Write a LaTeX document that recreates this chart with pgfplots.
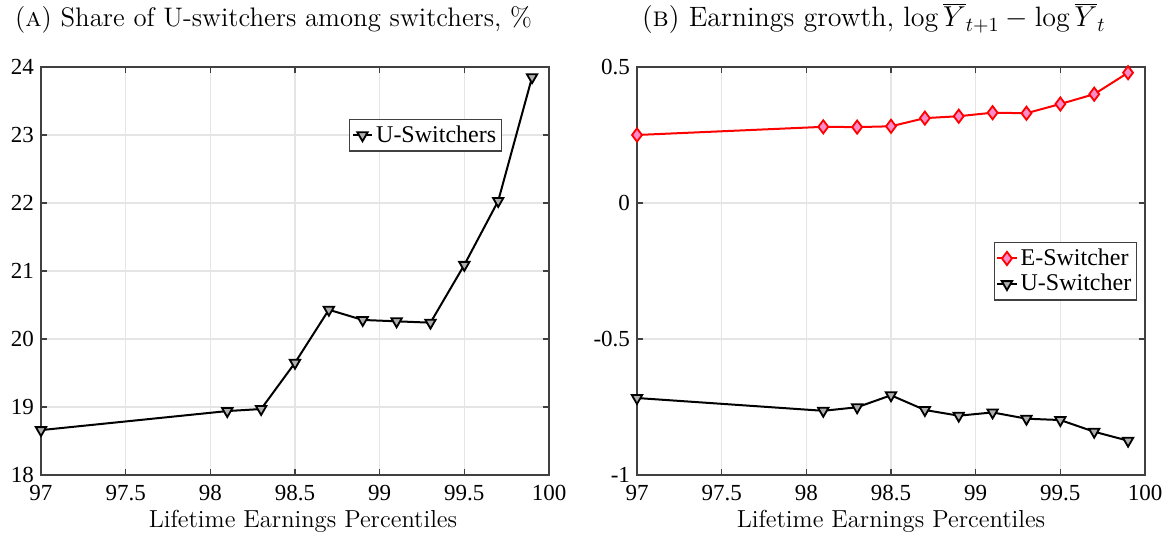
\documentclass[border=0pt]{standalone}
\usepackage{fontspec}
\usepackage{pgfplots}
\pgfplotsset{compat=1.18}
\newfontfamily\timesf{Liberation Serif}
\definecolor{pinkfill}{RGB}{255,140,200}
\definecolor{mgray}{RGB}{175,175,175}
\begin{document}
\begin{tikzpicture}[x=1pt,y=1pt]
\useasboundingbox (-20.5,-32) rectangle (566.5,237.5);
\pgfplotsset{
 mystyle/.style={
  scale only axis, width=254pt, height=204pt,
  xmin=97,xmax=100,
  xtick={97,97.5,98,98.5,99,99.5,100},
  xticklabels={97,97.5,98,98.5,99,99.5,100},
  tick align=inside, major tick length=3pt,
  grid=major, major grid style={black!10, line width=0.6pt},
  axis line style={black!75, line width=0.8pt},
  tick style={black!75, line width=0.8pt},
  tick label style={font=\timesf\fontsize{11.5}{12}\selectfont},
  xticklabel style={yshift=-1.7pt},
  xlabel={Lifetime Earnings Percentiles},
  xlabel style={font=\fontsize{12.3}{13}\selectfont, at={(axis description cs:0.5,0)}, anchor=base, yshift=-26.5pt},
  legend style={font=\timesf\fontsize{12}{13}\selectfont, draw=black!75, line width=0.6pt, inner sep=1pt, row sep=-1pt, nodes={inner xsep=1.5pt}},
  legend cell align=left,
  legend image code/.code={\draw[mark repeat=2,mark phase=2] plot coordinates {(0cm,0cm)(0.17cm,0cm)(0.34cm,0cm)};},
 },
 ustyle/.style={black, line width=1pt, mark=triangle*, mark size=3pt, mark options={rotate=180, fill=mgray, draw=black, line width=0.9pt}},
 estyle/.style={red, line width=1pt, mark=diamond*, mark size=3.3pt, mark options={fill=pinkfill, draw=red, line width=0.9pt}},
}
\begin{axis}[mystyle,
  ymin=18, ymax=24, ytick={18,19,20,21,22,23,24},
  yticklabels={18,19,20,21,22,23,24},
  legend style={at={(0.907,0.873)}, anchor=north east},
  xlabel style={xshift=4pt},
]
\addplot[ustyle] coordinates {
(97,18.66) (98.1,18.94) (98.3,18.97) (98.5,19.65) (98.7,20.43) (98.9,20.28)
(99.1,20.26) (99.3,20.24) (99.5,21.09) (99.7,22.03) (99.9,23.85)};
\addlegendentry{U-Switchers}
\end{axis}
\begin{axis}[mystyle, at={(298pt,0)},
  ymin=-1, ymax=0.5, ytick={-1,-0.5,0,0.5},
  yticklabels={-1,-0.5,0,0.5},
  legend style={at={(0.984,0.571)}, anchor=north east},
]
\addplot[estyle] coordinates {
(97,0.25) (98.1,0.280) (98.3,0.279) (98.5,0.282) (98.7,0.312) (98.9,0.319)
(99.1,0.332) (99.3,0.330) (99.5,0.364) (99.7,0.400) (99.9,0.479)};
\addlegendentry{E-Switcher}
\addplot[ustyle] coordinates {
(97,-0.717) (98.1,-0.764) (98.3,-0.751) (98.5,-0.707) (98.7,-0.761) (98.9,-0.782)
(99.1,-0.770) (99.3,-0.793) (99.5,-0.798) (99.7,-0.841) (99.9,-0.874)};
\addlegendentry{U-Switcher}
\end{axis}
\node[anchor=base west, font=\fontsize{13.4}{15}\selectfont] at (-16.5,224) {(\textsc{a}) Share of U-switchers among switchers, \%};
\node[anchor=base west, font=\fontsize{14}{15}\selectfont] at (297,224) {(\textsc{b}) Earnings growth, $\log\overline{Y}_{t+1}-\log\overline{Y}_t$};
\end{tikzpicture}
\end{document}
